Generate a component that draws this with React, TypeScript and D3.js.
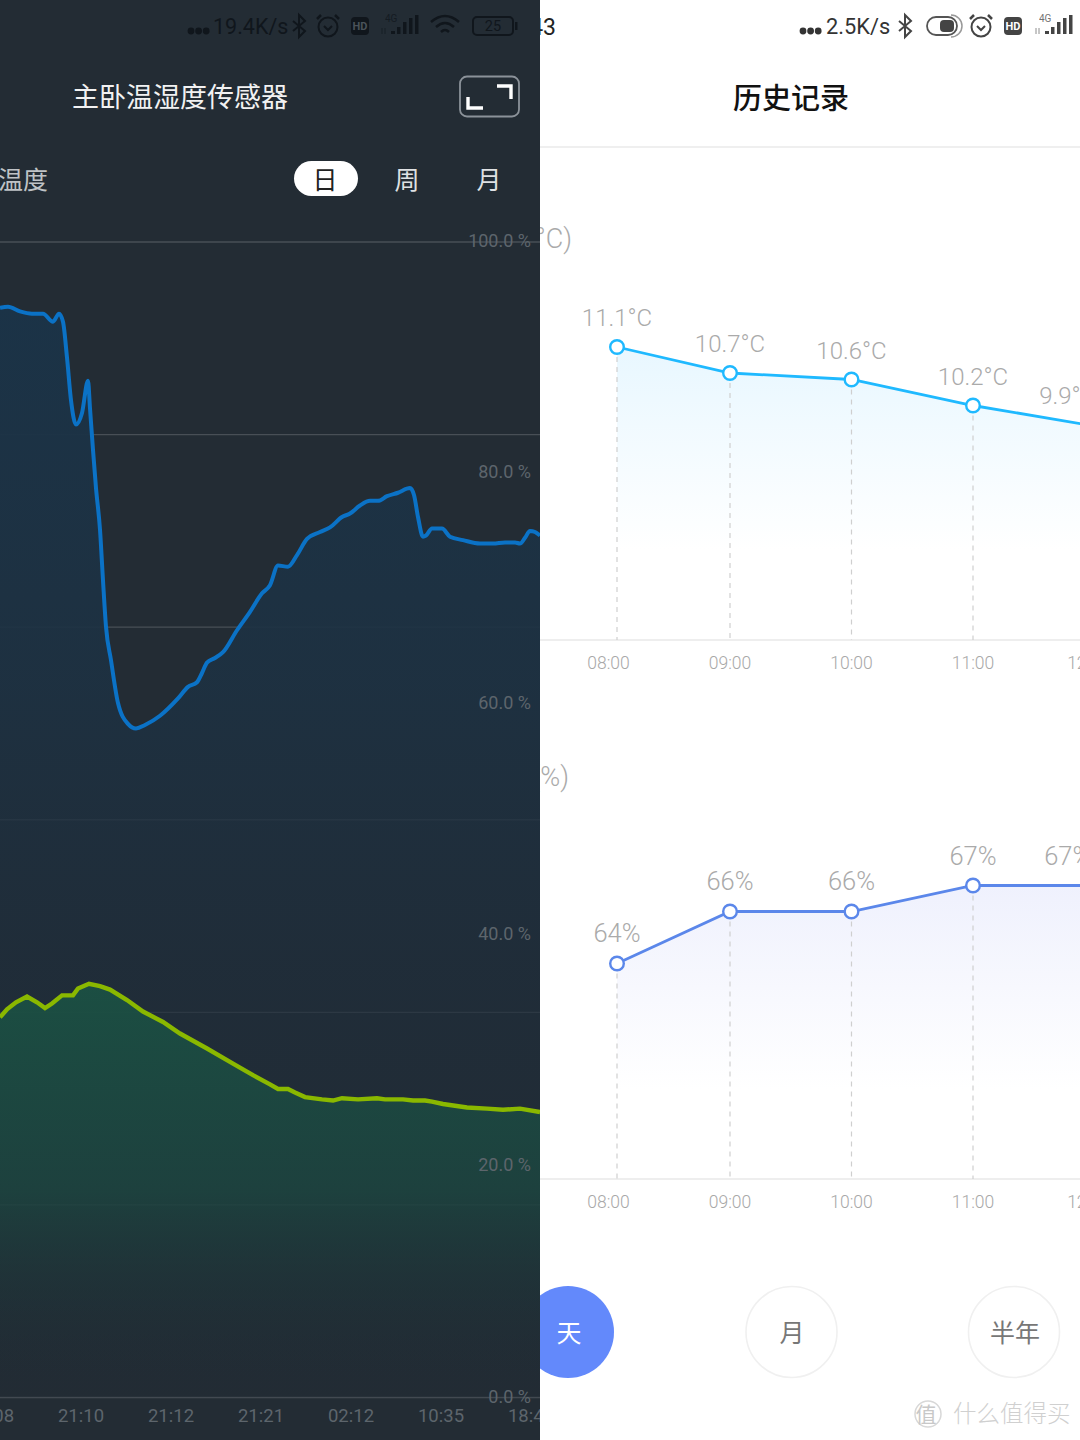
import React from "react";
import * as d3 from "d3";

// ---- Left panel: one reading per sample position (0..540)
const blueSamples = [0,8,20,32,43,53,59,63,67,71,76,82,88,90,93,96,100,103,106,111,118,128,136,145,160,178,188,197,202,207,215,223,237,250,262,270,278,288,297,307,320,330,342,350,360,370,378,387,398,410,414,418,423,426,432,442,450,463,480,493,505,515,520,525,530,535,540];
const blueHumidity = [94.3,94.4,94.0,93.8,93.8,93.1,93.8,93.1,90.0,86.3,84.2,85.2,88.0,85.6,82.0,78.7,75.1,70.7,66.7,63.8,60.1,58.3,57.9,58.2,59.0,60.5,61.5,61.9,62.7,63.6,64.0,64.5,66.4,68.0,69.6,70.3,72.0,71.9,72.9,74.3,74.9,75.3,76.2,76.5,77.2,77.6,77.6,78.0,78.3,78.7,78.1,76.2,74.5,74.6,75.2,75.2,74.5,74.2,73.9,73.9,74.0,74.0,73.9,74.4,75.0,74.9,74.6];
const greenSamples = [0,7,16,27,37,45,52,62,73,78,89,100,110,127,143,163,180,207,233,253,270,278,288,295,305,322,333,342,358,377,385,403,413,425,432,443,467,487,503,520,540];
const greenHumidity = [32.9,33.6,34.2,34.7,34.2,33.7,34.1,34.8,34.8,35.4,35.8,35.6,35.3,34.4,33.4,32.5,31.5,30.2,28.9,27.9,27.1,26.7,26.7,26.4,26.0,25.8,25.7,25.9,25.8,25.9,25.8,25.8,25.7,25.7,25.6,25.4,25.1,25.0,24.9,25.0,24.7];
const leftTimeLabels = ["21:08","21:10","21:12","21:21","02:12","10:35","18:43"];
const leftValueLabels = [100,80,60,40,20,0];
const gridSteps = [0,1,2,3,4,5,6];

// ---- Right panel
const readingHours = [8.07,9,10,11,11.95];
const labelHours = [8.07,9,10,11,11.78];
const temperature = [11.1,10.7,10.6,10.2,9.9];
const humidity = [64,66,66,67,67];
const tickHours = [8,9,10,11,11.95];
const tickLabels = ["08:00","09:00","10:00","11:00","12:00"];
const statusDots = [0,1,2];

const CJK = "'Noto Sans CJK SC','Noto Sans',sans-serif";
const LAT = "Roboto,'Noto Sans CJK SC',sans-serif";

const xL = d3.scaleLinear().domain([0,540]).range([0,540]);
const yL = d3.scaleLinear().domain([0,100]).range([1397.5,242]);
const xTickL = d3.scalePoint<string>().domain(leftTimeLabels).range([-9,531]);

const xR = d3.scaleLinear().domain([9,11]).range([730,973]);
const yT = d3.scaleLinear().domain([6.6,11.1]).range([639.5,347]);
const yH = d3.scaleLinear().domain([55.71,67]).range([1179,885.5]);

type Pt = [number, number];
const zip = (a: number[], b: number[]): Pt[] => a.map((v,i)=>[v,b[i]] as Pt);

const lineL = d3.line<Pt>().x(d=>xL(d[0])).y(d=>yL(d[1]));
const areaL = d3.area<Pt>().x(d=>xL(d[0])).y0(yL(0)).y1(d=>yL(d[1]));

const blue = zip(blueSamples, blueHumidity);
const green = zip(greenSamples, greenHumidity);

function Dots({x,y,c}:{x:number,y:number,c:string}){
  return <g>{statusDots.map(i=><circle key={i} cx={x+i*7.6} cy={y} r={3.4} fill={c}/>)}</g>;
}
function Bluetooth({x,y,c}:{x:number,y:number,c:string}){
  return <path transform={`translate(${x},${y})`} d="M-6,-5 L6,5 L0,11 L0,-11 L6,-5 L-6,5" fill="none" stroke={c} strokeWidth={2}/>;
}
function Alarm({x,y,c}:{x:number,y:number,c:string}){
  return <g transform={`translate(${x},${y})`} fill="none" stroke={c} strokeWidth={2}>
    <circle cx={0} cy={1} r={9.5}/>
    <path d="M-4,0 L0,4 L4,0"/>
    <path d="M-11,-7 L-7,-11 M11,-7 L7,-11" strokeWidth={2.5}/>
  </g>;
}
function HD({x,y,bg,fg}:{x:number,y:number,bg:string,fg:string}){
  return <g transform={`translate(${x},${y})`}>
    <rect x={-9} y={-9} width={18} height={18} rx={4} fill={bg}/>
    <text x={0} y={4} textAnchor="middle" fontSize={11} fontWeight={700} fontFamily={LAT} fill={fg}>HD</text>
  </g>;
}
function Signal({x,y,c}:{x:number,y:number,c:string}){
  return <g transform={`translate(${x},${y})`}>
    <text x={4} y={-3} fontSize={10} fontFamily={LAT} fill={c} opacity={0.75}>4G</text>
    <path d="M1,3 v6 M4,3 v6" stroke={c} strokeWidth={1} opacity={0.6}/>
    <rect x={10} y={6} width={4} height={3} fill={c}/>
    <rect x={16} y={2} width={3.5} height={7} fill={c}/>
    <rect x={22} y={-3} width={3.5} height={12} fill={c}/>
    <rect x={28} y={-7} width={3.5} height={16} fill={c}/>
    <rect x={34} y={-10} width={3.5} height={19} fill={c}/>
  </g>;
}

function PointsChart({id,color,fillTop,values,y,label,labelSize,titleX,titleY,title,baseY,tickY}:{id:string,color:string,fillTop:string,values:number[],y:d3.ScaleLinear<number,number>,label:(v:number)=>string,labelSize:number,titleX:number,titleY:number,title:string,baseY:number,tickY:number}){
  const pts = zip(readingHours, values);
  const line = d3.line<Pt>().x(d=>xR(d[0])).y(d=>y(d[1]));
  const area = d3.area<Pt>().x(d=>xR(d[0])).y0(baseY).y1(d=>y(d[1]));
  const top = y(d3.max(values)!);
  return <g>
    <defs>
      <linearGradient id={id} gradientUnits="userSpaceOnUse" x1={0} x2={0} y1={top} y2={baseY-90}>
        <stop offset="0" stopColor={fillTop}/>
        <stop offset="1" stopColor="#ffffff"/>
      </linearGradient>
    </defs>
    <text x={titleX} y={titleY} textAnchor="end" fontSize={27} fontWeight={300} fontFamily={LAT} fill="#aaa">{title}</text>
    <path d={area(pts)!} fill={`url(#${id})`}/>
    <line x1={540} x2={1080} y1={baseY} y2={baseY} stroke="#eeeeee" strokeWidth={2}/>
    {pts.map((d,i)=><line key={i} x1={xR(d[0])} x2={xR(d[0])} y1={y(d[1])} y2={baseY} stroke="#cfcfcf" strokeWidth={1.2} strokeDasharray="5 5"/>)}
    <path d={line(pts)!} fill="none" stroke={color} strokeWidth={2.8}/>
    {pts.map((d,i)=><circle key={i} cx={xR(d[0])} cy={y(d[1])} r={6.8} fill="#fff" stroke={color} strokeWidth={2.4}/>)}
    {values.map((v,i)=><text key={i} x={xR(labelHours[i])} y={y(v)-21} textAnchor="middle" fontSize={labelSize} fontWeight={300} fontFamily={LAT} fill="#aaaaaa">{label(v)}</text>)}
    {tickHours.map((h,i)=><text key={i} x={xR(h)} y={tickY} textAnchor="middle" fontSize={17.5} fontFamily={LAT} fontWeight={300} fill="#a8a8a8">{tickLabels[i]}</text>)}
  </g>;
}

export default function App(){
  return <svg width={1080} height={1440} viewBox="0 0 1080 1440" style={{position:"absolute",left:0,top:0,display:"block"}}>
    <defs>
      <clipPath id="leftClip"><rect x={0} y={0} width={540} height={1440}/></clipPath>
      <clipPath id="rightClip"><rect x={540} y={0} width={540} height={1440}/></clipPath>
      <linearGradient id="blueFill" gradientUnits="userSpaceOnUse" x1={0} x2={0} y1={300} y2={1397}>
        <stop offset="0" stopColor="#1b3347" stopOpacity={1}/>
        <stop offset="0.35" stopColor="#1d3142" stopOpacity={0.9}/>
        <stop offset="0.6" stopColor="#1e2d3b" stopOpacity={0.7}/>
        <stop offset="1" stopColor="#202a34" stopOpacity={0.3}/>
      </linearGradient>
      <linearGradient id="greenFill" gradientUnits="userSpaceOnUse" x1={0} x2={0} y1={985} y2={1397}>
        <stop offset="0" stopColor="#1b5043" stopOpacity={0.95}/>
        <stop offset="0.5" stopColor="#1c4640" stopOpacity={0.8}/>
        <stop offset="1" stopColor="#1f2a34" stopOpacity={0}/>
      </linearGradient>
    </defs>

    {/* LEFT PANEL */}
    <g clipPath="url(#leftClip)">
      <rect x={0} y={0} width={540} height={1440} fill="#232c34"/>
      <Dots x={191} y={31} c="#10161c"/>
      <text x={213} y={34} fontSize={21.5} fontFamily={LAT} fill="#10161c">19.4K/s</text>
      <Bluetooth x={299} y={26} c="#10161c"/>
      <Alarm x={328} y={26} c="#10161c"/>
      <HD x={360} y={26} bg="#10161c" fg="#4a5259"/>
      <Signal x={381} y={25} c="#10161c"/>
      <g fill="none" stroke="#10161c" strokeWidth={2.5}>
        <path d="M431,22 Q445,10 459,22"/><path d="M436,27 Q445,19 454,27"/><path d="M441,32 Q445,28 449,32"/>
      </g>
      <rect x={473} y={17} width={40} height={18} rx={4} fill="none" stroke="#10161c" strokeWidth={2}/>
      <rect x={515} y={22} width={2.5} height={8} fill="#10161c"/>
      <text x={493} y={31} textAnchor="middle" fontSize={14.5} fontFamily={LAT} fill="#10161c">25</text>

      <text x={180} y={107} textAnchor="middle" fontSize={27} fontFamily={CJK} fill="#f2f2f2">主卧温湿度传感器</text>
      <rect x={460} y={76.5} width={59} height={40} rx={7} fill="none" stroke="#8b9299" strokeWidth={1.8}/>
      <path d="M468,97 V108 H483 M497,86 H511 V99" fill="none" stroke="#fff" strokeWidth={3.4}/>

      <text x={48} y={189} textAnchor="end" fontSize={25} fontFamily={CJK} fill="#bfc3c6">温度</text>
      <rect x={294} y={161} width={64} height={35} rx={17.5} fill="#fff"/>
      <text x={325} y={189} textAnchor="middle" fontSize={25} fontFamily={CJK} fill="#222">日</text>
      <text x={407} y={189} textAnchor="middle" fontSize={25} fontFamily={CJK} fill="#dfe1e3">周</text>
      <text x={489} y={189} textAnchor="middle" fontSize={25} fontFamily={CJK} fill="#dfe1e3">月</text>

      {gridSteps.map(s=>{
        const v = s*100/6;
        return <line key={s} x1={0} x2={540} y1={yL(v)} y2={yL(v)} stroke="#ffffff" strokeOpacity={0.17} strokeWidth={1.3}/>;
      })}
      <path d={areaL.curve(d3.curveMonotoneX)(blue)!} fill="url(#blueFill)"/>
      <path d={areaL.curve(d3.curveLinear)(green)!} fill="url(#greenFill)"/>
      <path d={lineL.curve(d3.curveMonotoneX)(blue)!} fill="none" stroke="#0b72c6" strokeWidth={4}/>
      <path d={lineL.curve(d3.curveLinear)(green)!} fill="none" stroke="#8ab800" strokeWidth={4.4}/>

      {leftValueLabels.map(v=><text key={v} x={531} y={yL(v)+5} textAnchor="end" fontSize={18} fontFamily={LAT} fill="#5d656c">{v.toFixed(1)} %</text>)}
      {leftTimeLabels.map(l=><text key={l} x={xTickL(l)} y={1422} textAnchor="middle" fontSize={18.5} fontFamily={LAT} fill="#5d656c">{l}</text>)}
    </g>

    {/* RIGHT PANEL */}
    <g clipPath="url(#rightClip)">
      <rect x={540} y={0} width={540} height={1440} fill="#fff"/>
      <text x={556} y={35} textAnchor="end" fontSize={23} fontFamily={LAT} fill="#222">18:43</text>
      <Dots x={803} y={31} c="#333"/>
      <text x={826} y={34} fontSize={21.8} fontFamily={LAT} fill="#333">2.5K/s</text>
      <Bluetooth x={905} y={26} c="#444"/>
      <g>
        <rect x={927} y={17} width={30} height={18} rx={9} fill="none" stroke="#555" strokeWidth={1.8}/>
        <rect x={940} y={20} width={14} height={12} rx={4} fill="#444"/>
        <path d="M951,15 A11,11 0 0 1 951,37" fill="none" stroke="#999" strokeWidth={1.5}/>
      </g>
      <Alarm x={981} y={26} c="#444"/>
      <HD x={1013} y={26} bg="#444" fg="#fff"/>
      <Signal x={1035} y={25} c="#444"/>

      <text x={791} y={109} textAnchor="middle" fontSize={29} fontWeight={500} fontFamily={CJK} fill="#111">历史记录</text>
      <line x1={540} x2={1080} y1={147} y2={147} stroke="#efefef" strokeWidth={2}/>

      <PointsChart id="tempFill" color="#1fb9ff" fillTop="#e8f7ff" values={temperature} y={yT} label={v=>`${v.toFixed(1)}°C`} labelSize={24} titleX={572} titleY={248} title="温度(°C)" baseY={640} tickY={669}/>
      <PointsChart id="humFill" color="#5b87ea" fillTop="#eff1fd" values={humidity} y={yH} label={v=>`${v}%`} labelSize={25.5} titleX={569} titleY={786} title="湿度(%)" baseY={1179} tickY={1208}/>

      <circle cx={568} cy={1332} r={46} fill="#6389fb"/>
      <text x={569} y={1342} textAnchor="middle" fontSize={25} fontFamily={CJK} fill="#fff">天</text>
      <circle cx={791.5} cy={1332} r={45.5} fill="#fff" stroke="#f0f0f0" strokeWidth={1.6}/>
      <text x={792} y={1342} textAnchor="middle" fontSize={25} fontFamily={CJK} fill="#777">月</text>
      <circle cx={1014} cy={1332} r={45.5} fill="#fff" stroke="#f0f0f0" strokeWidth={1.6}/>
      <text x={1015} y={1342} textAnchor="middle" fontSize={25} fontFamily={CJK} fill="#777">半年</text>

      <circle cx={928} cy={1414} r={13} fill="none" stroke="#d8d8d8" strokeWidth={1.5}/>
      <text x={926} y={1422} textAnchor="middle" fontSize={21} fontFamily={CJK} fill="#c8c8c8">值</text>
      <text x={953} y={1422} fontSize={23.5} fontFamily={CJK} fontWeight={300} fill="#d0d0d0">什么值得买</text>
    </g>
  </svg>;
}
